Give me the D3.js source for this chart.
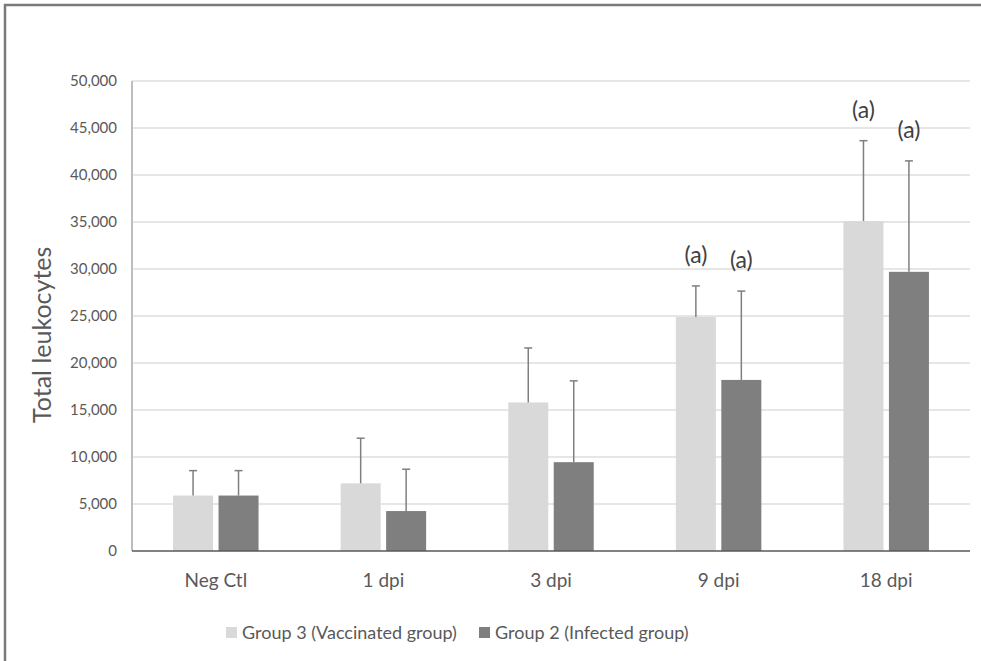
<!DOCTYPE html>
<html>
<head>
<meta charset="utf-8">
<script src="https://cdn.jsdelivr.net/npm/d3@7"></script>
<style>
  body { margin: 0; background: #fff; }
  text { font-family: Lato, "Open Sans", sans-serif; }
</style>
</head>
<body>
<div id="chart"></div>
<script>
// data
const categories = ["Neg Ctl", "1 dpi", "3 dpi", "9 dpi", "18 dpi"];
const seriesNames = ["Group 3 (Vaccinated group)", "Group 2 (Infected group)"];
const vaccinated = [5900, 7200, 15800, 24900, 35100];
const vaccinatedErr = [2650, 4800, 5800, 3300, 8550];
const infected = [5900, 4250, 9450, 18200, 29700];
const infectedErr = [2650, 4450, 8650, 9450, 11800];
const vaccinatedMark = ["", "", "", "(a)", "(a)"];
const infectedMark = ["", "", "", "(a)", "(a)"];
const yTicks = [0, 5000, 10000, 15000, 20000, 25000, 30000, 35000, 40000, 45000, 50000];

const width = 981,
    height = 661;
const margin = {top: 81, right: 11, bottom: 110, left: 132};

const svg = d3.select("#chart")
  .append("svg")
    .attr("width", width)
    .attr("height", height);

// outer frame
svg.append("rect")
    .attr("x", 5).attr("y", 5)
    .attr("width", width + 10).attr("height", height + 10)
    .attr("fill", "none")
    .attr("stroke", "#7a7a7a")
    .attr("stroke-width", 2.5);

const x = d3.scaleBand()
    .domain(categories)
    .range([margin.left, width - margin.right])
    .paddingInner(0.49)
    .paddingOuter(0.245);

const x1 = d3.scaleBand()
    .domain([0, 1])
    .range([0, x.bandwidth()])
    .paddingInner(0.12);

const y = d3.scaleLinear()
    .domain([0, 50000])
    .range([height - margin.bottom, margin.top]);

const fmt = d3.format(",");

// gridlines
svg.append("g")
  .selectAll("line")
  .data(yTicks.slice(1))
  .join("line")
    .attr("x1", margin.left)
    .attr("x2", width - margin.right)
    .attr("y1", d => y(d))
    .attr("y2", d => y(d))
    .attr("stroke", "#dedede")
    .attr("stroke-width", 1.3);

// left axis line
svg.append("line")
    .attr("x1", margin.left).attr("x2", margin.left)
    .attr("y1", y(50000)).attr("y2", y(0))
    .attr("stroke", "#bdbdbd")
    .attr("stroke-width", 2);

// y tick labels
const yAxis = svg.append("g")
    .attr("transform", `translate(${margin.left},0)`)
    .call(d3.axisLeft(y).tickValues(yTicks).tickFormat(fmt).tickSize(0).tickPadding(15));
yAxis.select(".domain").remove();
yAxis.selectAll("text")
    .attr("fill", "#595959")
    .style("font-size", "15px");

// y title
svg.append("text")
    .attr("transform", `translate(51, ${y(23000)}) rotate(-90)`)
    .attr("text-anchor", "middle")
    .attr("fill", "#595959")
    .style("font-size", "25px")
    .text("Total leukocytes");

const rows = categories.map((c, i) => [
  {cat: c, s: 0, v: vaccinated[i], e: vaccinatedErr[i], m: vaccinatedMark[i]},
  {cat: c, s: 1, v: infected[i], e: infectedErr[i], m: infectedMark[i]}
]).flat();

const colors = ["#d9d9d9", "#7f7f7f"];

// bars
svg.append("g")
  .selectAll("rect")
  .data(rows)
  .join("rect")
    .attr("x", d => x(d.cat) + x1(d.s))
    .attr("y", d => y(d.v))
    .attr("width", x1.bandwidth())
    .attr("height", d => y(0) - y(d.v))
    .attr("fill", d => colors[d.s]);

// error bars
const err = svg.append("g")
    .attr("stroke", "#7f7f7f")
    .attr("stroke-width", 1.5);
const cx = d => x(d.cat) + x1(d.s) + x1.bandwidth() / 2;
err.selectAll(".stem")
  .data(rows)
  .join("line")
    .attr("x1", cx).attr("x2", cx)
    .attr("y1", d => y(d.v))
    .attr("y2", d => y(d.v + d.e));
err.selectAll(".cap")
  .data(rows)
  .join("line")
    .attr("x1", d => cx(d) - 4).attr("x2", d => cx(d) + 4)
    .attr("y1", d => y(d.v + d.e))
    .attr("y2", d => y(d.v + d.e));

// significance marks
svg.append("g")
  .selectAll("text")
  .data(rows.filter(d => d.m))
  .join("text")
    .attr("x", cx)
    .attr("y", d => y(d.v + d.e) - 23)
    .attr("text-anchor", "middle")
    .attr("fill", "#404040")
    .style("font-size", "23px")
    .text(d => d.m);

// x axis line
svg.append("line")
    .attr("x1", margin.left).attr("x2", width - margin.right)
    .attr("y1", y(0)).attr("y2", y(0))
    .attr("stroke", "#595959")
    .attr("stroke-width", 1.5);

// x labels
svg.append("g")
  .selectAll("text")
  .data(categories)
  .join("text")
    .attr("x", d => x(d) + x.bandwidth() / 2)
    .attr("y", y(0) + 36)
    .attr("text-anchor", "middle")
    .attr("fill", "#595959")
    .style("font-size", "19px")
    .text(d => d);

// legend
const legendX = [226, 479];
const legend = svg.append("g");
legend.selectAll("rect")
  .data(seriesNames)
  .join("rect")
    .attr("x", (d, i) => legendX[i])
    .attr("y", 627)
    .attr("width", 11)
    .attr("height", 11)
    .attr("fill", (d, i) => colors[i]);
legend.selectAll("text")
  .data(seriesNames)
  .join("text")
    .attr("x", (d, i) => legendX[i] + 16)
    .attr("y", 639)
    .attr("fill", "#595959")
    .style("font-size", "18px")
    .text(d => d);
</script>
</body>
</html>
